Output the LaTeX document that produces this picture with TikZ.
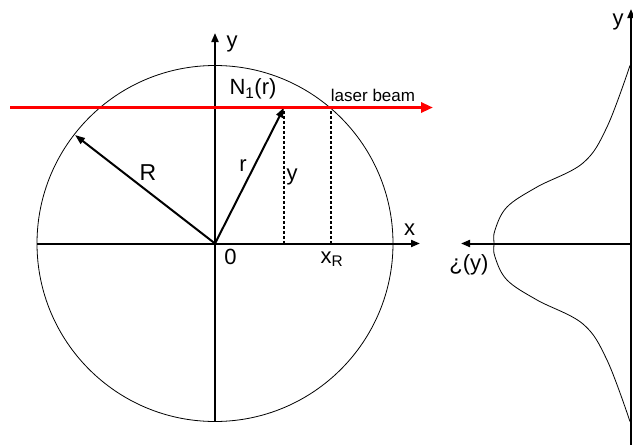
\documentclass[tikz,border=0pt]{standalone}
\usepackage{fontspec}
\setmainfont{Liberation Sans}
\usetikzlibrary{arrows.meta}

\begin{document}
\begin{tikzpicture}[x=1pt, y=-1pt,
  axis/.style={line width=2pt, -{Triangle[length=9pt,width=7pt]}},
  ray/.style={line width=2pt, -{Triangle[length=10pt,width=7pt]}},
  beam/.style={red, line width=3pt, -{Triangle[length=12pt,width=10pt]}},
  proj/.style={line width=1.4pt, dash pattern=on 3pt off 2pt},
  lbl/.style={font=\fontsize{22}{26}\selectfont, inner sep=0pt}]
  \useasboundingbox (0,0) rectangle (633,445);
  % left: cross section
  \coordinate (O) at (215,243.5);
  \coordinate (yBot) at (215,421.5);
  \coordinate (yTop) at (215,33);
  \coordinate (xLeft) at (37,243.5);
  \coordinate (xRight) at (420,243.5);
  \coordinate (beamL) at (10,107.5);
  \coordinate (beamR) at (433,107.5);
  \coordinate (P) at (284,107.5);
  \coordinate (Pfoot) at (284,243.5);
  \coordinate (Q) at (331,107.5);
  \coordinate (Qfoot) at (331,243.5);
  \coordinate (Rtip) at (75,135);
  \draw[line width=0.8pt] (O) circle[radius=178];
  \draw[axis] (yBot) -- (yTop);
  \draw[axis] (xLeft) -- (xRight);
  \draw[proj] (Pfoot) -- (P);
  \draw[proj] (Qfoot) -- (Q);
  \draw[ray] (O) -- (Rtip);
  \draw[ray] (O) -- (P);
  \draw[beam] (beamL) -- (beamR);
  \node[lbl] (ylab) at (232,44) {y};
  \node[lbl] (xlab) at (409.5,229.5) {x};
  \node[lbl] (zero) at (230.5,256.5) {0};
  \node[lbl] (xR) at (332,259) {x\textsubscript{R}};
  \node[lbl] (Nlab) at (253,89) {N\textsubscript{1}(r)};
  \node[lbl, font=\fontsize{17}{20}\selectfont] (laser) at (373,95) {laser beam};
  \node[lbl, font=\fontsize{23}{27}\selectfont] (Rlab) at (148,173) {R};
  \node[lbl] (rlab) at (243,166) {r};
  \node[lbl] (ydash) at (292,177) {y};
  % right: profile
  \coordinate (rO) at (631,243.5);
  \coordinate (rBot) at (631,445);
  \coordinate (rTop) at (631,9);
  \coordinate (rhoTip) at (461,243.5);
  \draw[axis] (rBot) -- (rTop);
  \draw[axis] (rO) -- (rhoTip);
  \draw[line width=0.8pt] plot[smooth, tension=0.6] coordinates {(630,65.5) (607,127) (583,163) (537,187) (507,207) (495,230) (494,243.5) (495,257) (507,280) (537,300) (583,324) (607,360) (630,421.5)};
  \node[lbl] (rylab) at (618,22) {y};
  \node[lbl] (rho) at (469,265) {¿(y)};
\end{tikzpicture}
\end{document}
